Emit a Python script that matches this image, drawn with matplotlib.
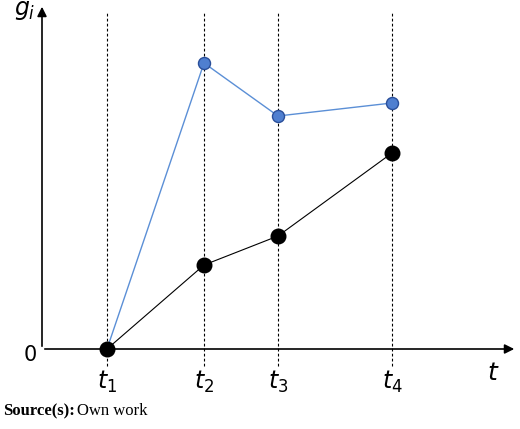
import matplotlib
matplotlib.use("Agg")
import matplotlib.pyplot as plt

t_pos = [107, 204, 278, 392]
t_labels = ["$t_1$", "$t_2$", "$t_3$", "$t_4$"]
blue_vals = [0, 286, 233, 246]
black_vals = [0, 84, 113, 196]

fig = plt.figure(figsize=(5.2, 4.29), dpi=100)
ax = fig.add_axes([0, 0, 1, 1])
ax.set_xlim(0, 520)
ax.set_ylim(-80, 349)
ax.axis("off")
X0, Y0 = 42, 0
ax.annotate("", xy=(X0, 345), xytext=(X0, Y0),
            arrowprops=dict(arrowstyle="-|>", color="black", lw=1.2, mutation_scale=14))
ax.annotate("", xy=(517, Y0), xytext=(X0, Y0),
            arrowprops=dict(arrowstyle="-|>", color="black", lw=1.2, mutation_scale=14))
for x, lab in zip(t_pos, t_labels):
    ax.plot([x, x], [-17, 337], ls=(0, (2.5, 2)), color="black", lw=0.8)
    ax.text(x, -20, lab, ha="center", va="top", fontsize=17, family="DejaVu Serif")
ax.plot(t_pos, blue_vals, color="#5b8fd6", lw=1, zorder=3)
ax.scatter(t_pos[1:], blue_vals[1:], s=75, color="#4f7fd0", edgecolor="#2a4f9a", lw=1, zorder=4)
ax.plot(t_pos, black_vals, color="black", lw=0.8, zorder=3)
ax.scatter(t_pos, black_vals, s=110, color="black", zorder=5)
ax.text(14, 338, "$g_i$", fontsize=17, ha="left", va="center", family="DejaVu Serif")
ax.text(30, -6, "0", fontsize=15, ha="center", va="center")
ax.text(493, -24, "$t$", fontsize=18, ha="center", va="center")
ax.text(3, -62, "Source(s):", fontsize=12, weight="bold", family="Liberation Serif", va="center")
ax.text(77, -62, "Own work", fontsize=12, family="Liberation Serif", va="center")
fig.savefig("out.png", dpi=100)
